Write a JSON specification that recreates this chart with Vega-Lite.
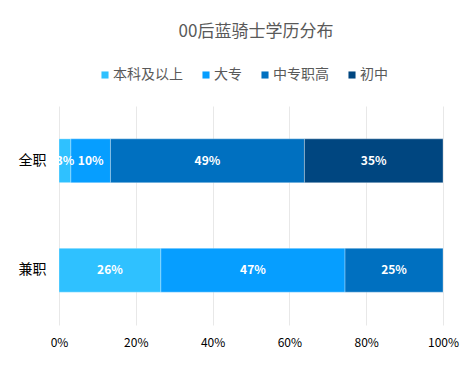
{
  "$schema": "https://vega.github.io/schema/vega-lite/v6.json",
  "width": 384,
  "height": 219,
  "autosize": "none",
  "padding": {"left": 59, "top": 106, "right": 32, "bottom": 41},
  "background": "white",
  "config": {
    "view": {"stroke": null},
    "font": "Noto Sans CJK SC"
  },
  "title": {
    "text": "00后蓝骑士学历分布",
    "fontSize": 17,
    "fontWeight": "normal",
    "color": "#595959",
    "anchor": "middle",
    "frame": "group",
    "dx": 5,
    "offset": 27
  },
  "data": {
    "values": [
      {"type": "全职", "edu": "本科及以上", "rank": 1, "value": 3, "label": "3%"},
      {"type": "全职", "edu": "大专", "rank": 2, "value": 10, "label": "10%"},
      {"type": "全职", "edu": "中专职高", "rank": 3, "value": 49, "label": "49%"},
      {"type": "全职", "edu": "初中", "rank": 4, "value": 35, "label": "35%"},
      {"type": "兼职", "edu": "本科及以上", "rank": 1, "value": 26, "label": "26%"},
      {"type": "兼职", "edu": "大专", "rank": 2, "value": 47, "label": "47%"},
      {"type": "兼职", "edu": "中专职高", "rank": 3, "value": 25, "label": "25%"}
    ]
  },
  "encoding": {
    "y": {
      "field": "type",
      "type": "nominal",
      "sort": ["全职", "兼职"],
      "scale": {"paddingInner": 0.6, "paddingOuter": 0.3},
      "axis": {
        "title": null,
        "domain": false,
        "ticks": false,
        "labelFontSize": 14,
        "labelColor": "#000000",
        "labelPadding": 13
      }
    },
    "order": {"field": "rank", "type": "quantitative"}
  },
  "layer": [
    {
      "mark": {"type": "bar", "stroke": "#ffffff", "strokeWidth": 0.6, "strokeOpacity": 0.5},
      "encoding": {
        "x": {
          "field": "value",
          "type": "quantitative",
          "stack": "normalize",
          "scale": {"domain": [0, 1], "nice": false},
          "axis": {
            "title": null,
            "format": ".0%",
            "values": [0, 0.2, 0.4, 0.6, 0.8, 1],
            "domain": false,
            "ticks": false,
            "grid": true,
            "gridColor": "#e8e8e8",
            "gridWidth": 1,
            "labelFlush": false,
            "labelFontSize": 12,
            "labelColor": "#000000",
            "labelPadding": 12
          }
        },
        "color": {
          "field": "edu",
          "type": "nominal",
          "scale": {
            "domain": ["本科及以上", "大专", "中专职高", "初中"],
            "range": ["#2FC1FF", "#069EFF", "#0070C0", "#004680"]
          },
          "legend": {
            "title": null,
            "orient": "none",
            "direction": "horizontal",
            "legendX": 39,
            "legendY": -38,
            "symbolType": "square",
            "symbolSize": 50,
            "symbolStrokeWidth": 0,
            "labelFontSize": 14,
            "labelColor": "#595959",
            "labelOffset": 1,
            "columnPadding": 16
          }
        }
      }
    },
    {
      "mark": {"type": "text", "color": "white", "fontWeight": "bold", "fontSize": 12},
      "encoding": {
        "x": {"field": "value", "type": "quantitative", "stack": "normalize", "bandPosition": 0.5},
        "text": {"field": "label", "type": "nominal"}
      }
    }
  ]
}
